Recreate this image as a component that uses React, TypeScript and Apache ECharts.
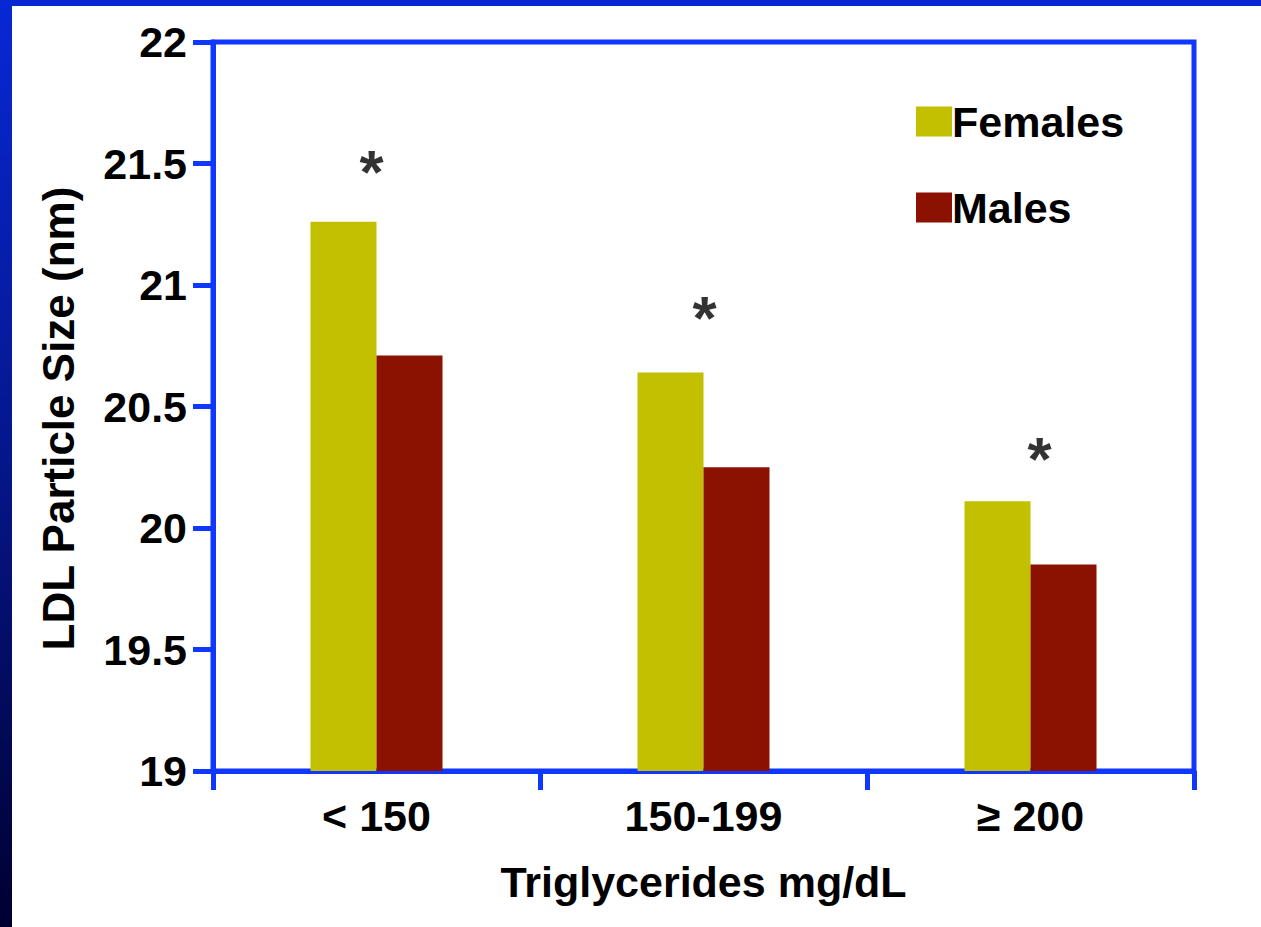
import React, { useEffect, useRef } from "react";
import * as echarts from "echarts";

const categories = ["< 150", "150-199", "≥ 200"];
const females = [21.26, 20.64, 20.11];
const males = [20.71, 20.25, 19.85];
const asteriskLevels = [21.5, 20.9, 20.32];
const asteriskOffsets = [-5, 1, 9];
const yTicks = { min: 19, max: 22, interval: 0.5 };

const FONT = "'Liberation Sans', Arial, Helvetica, sans-serif";
const AXIS_BLUE = "#0f37ff";
const FS = 43;

export default function App() {
  const ref = useRef<HTMLDivElement>(null);
  useEffect(() => {
    if (!ref.current) return;
    const chart = echarts.init(ref.current, null, { renderer: "svg" });
    chart.setOption({
      animation: false,
      backgroundColor: "#ffffff",
      textStyle: { fontFamily: FONT },
      graphic: [
        {
          type: "rect",
          left: 0,
          top: 0,
          shape: { width: 1261, height: 6 },
          style: { fill: "#0827d2" },
          silent: true,
        },
        {
          type: "rect",
          left: 0,
          top: 0,
          shape: { width: 12, height: 927 },
          style: {
            fill: new echarts.graphic.LinearGradient(0, 0, 0, 1, [
              { offset: 0, color: "#0828d6" },
              { offset: 0.5, color: "#05168a" },
              { offset: 1, color: "#000030" },
            ]),
          },
          silent: true,
        },
      ],
      grid: {
        left: 213,
        right: 67,
        top: 42,
        bottom: 156,
        show: true,
        borderColor: AXIS_BLUE,
        borderWidth: 5,
        backgroundColor: "transparent",
      },
      legend: {
        data: ["Females", "Males"],
        orient: "vertical",
        left: 911,
        top: 95,
        itemWidth: 36,
        itemHeight: 30,
        itemGap: 43,
        icon: "rect",
        textStyle: {
          fontSize: FS,
          fontWeight: "bold",
          color: "#000",
          fontFamily: FONT,
          padding: [0, 0, 12, -5],
        },
      },
      xAxis: {
        type: "category",
        data: categories,
        boundaryGap: true,
        axisLine: { lineStyle: { color: AXIS_BLUE, width: 5 } },
        axisTick: {
          show: true,
          length: 19,
          alignWithLabel: false,
          lineStyle: { color: AXIS_BLUE, width: 5 },
        },
        axisLabel: {
          fontSize: FS,
          fontWeight: "bold",
          color: "#000",
          margin: 23,
          fontFamily: FONT,
        },
        name: "Triglycerides mg/dL",
        nameLocation: "middle",
        nameGap: 89,
        nameTextStyle: {
          fontSize: FS,
          fontWeight: "bold",
          color: "#000",
          fontFamily: FONT,
        },
      },
      yAxis: {
        type: "value",
        min: yTicks.min,
        max: yTicks.max,
        interval: yTicks.interval,
        splitLine: { show: false },
        axisLine: { show: true, lineStyle: { color: AXIS_BLUE, width: 5 } },
        axisTick: {
          show: true,
          length: 20,
          lineStyle: { color: AXIS_BLUE, width: 5 },
        },
        axisLabel: {
          fontSize: FS,
          fontWeight: "bold",
          color: "#000",
          margin: 26,
          fontFamily: FONT,
        },
        name: "LDL Particle Size (nm)",
        nameLocation: "middle",
        nameGap: 133,
        nameTextStyle: {
          fontSize: 44,
          fontWeight: "bold",
          color: "#000",
          fontFamily: FONT,
          padding: [0, 24, 0, 0],
        },
      },
      series: [
        {
          name: "Females",
          type: "bar",
          data: females,
          barWidth: 66,
          barGap: "0%",
          itemStyle: { color: "#c2c000" },
        },
        {
          name: "Males",
          type: "bar",
          data: males,
          barWidth: 66,
          barGap: "0%",
          itemStyle: { color: "#8b1200" },
        },
        {
          name: "sig",
          type: "scatter",
          symbol: "circle",
          symbolSize: 0,
          itemStyle: { color: "#000000" },
          data: asteriskLevels.map((v, i) => ({
            value: [categories[i], v],
            label: { offset: [asteriskOffsets[i], 8] },
          })),
          label: {
            show: true,
            position: "inside",
            formatter: "*",
            fontSize: 62,
            fontWeight: "bold",
            color: "#000000",
            fontFamily: FONT,
          },
          silent: true,
        },
      ],
    });
    return () => chart.dispose();
  }, []);
  return (
    <div
      ref={ref}
      style={{ position: "fixed", left: 0, top: 0, width: 1261, height: 927 }}
    />
  );
}
